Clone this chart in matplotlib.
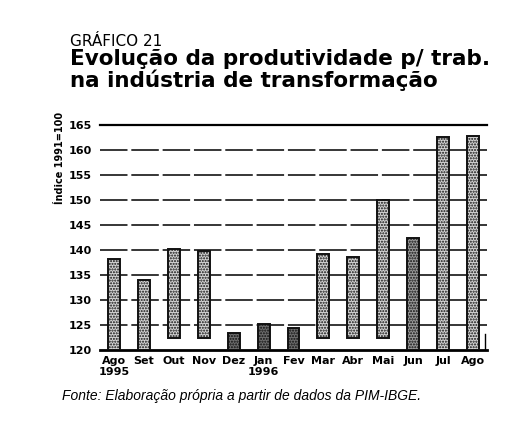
# Evolucao da produtividade por trabalhador - industria de transformacao
import matplotlib
matplotlib.use("Agg")
from matplotlib import pyplot as plt

months = ["Ago\n1995", "Set", "Out", "Nov", "Dez", "Jan\n1996", "Fev",
          "Mar", "Abr", "Mai", "Jun", "Jul", "Ago"]
top_vals = [138.3, 134.1, 140.2, 139.8, 123.4, 125.2, 124.4,
            139.3, 138.7, 150.1, 142.5, 162.6, 162.8]
base_vals = [120, 120, 122.4, 122.4, 120, 120, 120,
             122.4, 122.4, 122.4, 120, 120, 120]
y_ticks = [120, 125, 130, 135, 140, 145, 150, 155, 160, 165]

# the scan prints some bars darker than others
bar_face = ["#d4d4d4"] * 4 + ["#6e6e6e"] * 3 + ["#d4d4d4"] * 3 + ["#9a9a9a"] + ["#d4d4d4"] * 2

W, H = 522, 421
fig = plt.figure(figsize=(W / 100, H / 100), dpi=100)
ax = fig.add_axes([100 / W, 1 - 350 / H, 387 / W, 225 / H])

heights = [t - b for t, b in zip(top_vals, base_vals)]
x = list(range(len(months)))
ax.bar(x, heights, bottom=base_vals, width=0.40, color=bar_face,
       edgecolor="#111111", hatch="......", linewidth=1.4, zorder=3)

ax.set_xlim(-0.47, len(months) - 0.53)
ax.set_ylim(120, 165)
ax.set_yticks(y_ticks)
ax.set_yticklabels([str(v) for v in y_ticks], fontsize=8, fontweight="heavy")
ax.set_xticks(x)
ax.set_xticklabels(months, fontsize=8, fontweight="heavy", linespacing=1.15)
ax.tick_params(axis="y", length=0, pad=6)
ax.tick_params(axis="x", length=0, pad=4)

for v in y_ticks[1:-1]:
    ax.axhline(v, color="black", lw=1.1, ls=(0, (18, 2.5)), zorder=1)

for s in ["left", "right"]:
    ax.spines[s].set_visible(False)
ax.spines["top"].set_linewidth(1.6)
ax.spines["bottom"].set_linewidth(2.0)
# short corner mark at the lower right, as in the scan
ax.axvline(len(months) - 0.6, ymin=0, ymax=0.07, color="black", lw=1.0)

fig.text(60 / W, 1 - 158 / H, "Índice 1991=100", rotation=90, fontsize=7,
         fontweight="bold", ha="center", va="center")

fig.text(70 / W, 1 - 46 / H, "GRÁFICO 21", fontsize=11, va="baseline")
fig.text(70 / W, 1 - 65 / H, "Evolução da produtividade p/ trab.",
         fontsize=15.5, fontweight="bold", va="baseline")
fig.text(70 / W, 1 - 87 / H, "na indústria de transformação",
         fontsize=15.5, fontweight="bold", va="baseline")
fig.text(62 / W, 1 - 400 / H,
         "Fonte: Elaboração própria a partir de dados da PIM-IBGE.",
         fontsize=10, style="italic", family="Liberation Sans", va="baseline")

fig.savefig("out.png", dpi=100)
